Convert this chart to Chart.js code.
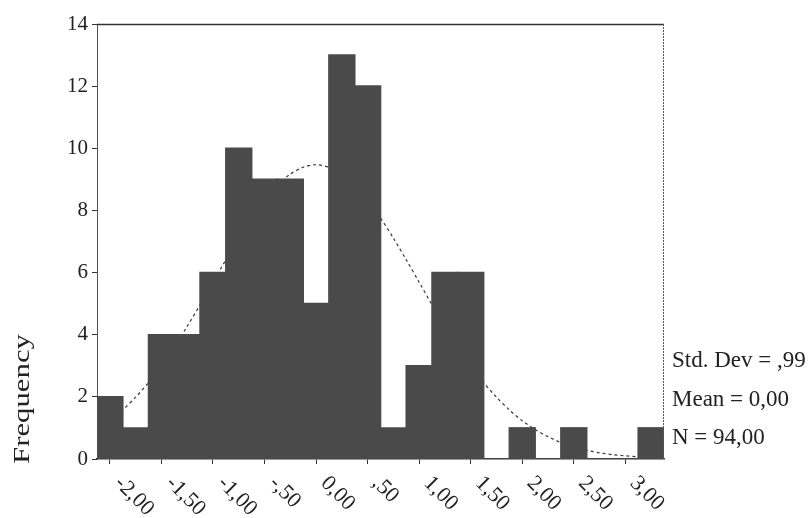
<!DOCTYPE html>
<html>
<head>
<meta charset="utf-8">
<script src="https://cdn.jsdelivr.net/npm/chart.js@4"></script>
<style>
  html, body { margin: 0; padding: 0; background: #fff; }
  #wrap { width: 811px; height: 518px; }
</style>
</head>
<body>
<div id="wrap"><canvas id="histChart" width="811" height="518"></canvas></div>
<script>
// histogram bins (centre of each 0.25 wide bin) and counts
const binCenters = [-2.00, -1.75, -1.50, -1.25, -1.00, -0.75, -0.50, -0.25, 0.00, 0.25, 0.50,
                    0.75, 1.00, 1.25, 1.50, 1.75, 2.00, 2.25, 2.50, 2.75, 3.00, 3.25];
const frequencies = [2, 1, 4, 4, 6, 10, 9, 9, 5, 13, 12, 1, 3, 6, 6, 0, 1, 0, 1, 0, 0, 1];

// normal curve
const curveX = [-2.125, -2.0, -1.875, -1.75, -1.625, -1.5, -1.375, -1.25, -1.125, -1.0, -0.875,
                -0.75, -0.625, -0.5, -0.375, -0.25, -0.125, 0, 0.125, 0.25, 0.375, 0.5, 0.625,
                0.75, 0.875, 1.0, 1.125, 1.25, 1.375, 1.5, 1.625, 1.75, 1.875, 2.0, 2.125, 2.25,
                2.375, 2.5, 2.625, 2.75, 2.875, 3.0, 3.125, 3.25, 3.375];
const curveY = [0.95, 1.23, 1.58, 1.99, 2.46, 3.0, 3.61, 4.27, 4.96, 5.69, 6.41,
                7.11, 7.76, 8.34, 8.82, 9.17, 9.39, 9.47, 9.39, 9.17, 8.82, 8.34, 7.76,
                7.11, 6.41, 5.69, 4.96, 4.27, 3.61, 3.0, 2.46, 1.99, 1.58, 1.23, 0.95, 0.72,
                0.53, 0.39, 0.28, 0.2, 0.14, 0.1, 0.07, 0.04, 0.03];

const xTickValues = [-2, -1.5, -1, -0.5, 0, 0.5, 1, 1.5, 2, 2.5, 3];
const xTickLabels = ["-2,00", "-1,50", "-1,00", "-,50", "0,00", ",50", "1,00", "1,50", "2,00", "2,50", "3,00"];
const yTicks = [0, 2, 4, 6, 8, 10, 12, 14];

const statsLines = ["Std. Dev = ,99", "Mean = 0,00", "N = 94,00"];
const yTitle = "Frequency";

const SERIF = "'Liberation Serif', 'DejaVu Serif', serif";
const INK = "#222";

// rotated x labels, axis title, stats and the box frame
const decorPlugin = {
  id: "decor",
  afterDraw(chart) {
    const ctx = chart.ctx;
    const a = chart.chartArea;
    const xs = chart.scales.x;

    ctx.save();
    // frame top + right
    ctx.strokeStyle = "#333";
    ctx.lineWidth = 1.3;
    ctx.beginPath();
    ctx.moveTo(a.left, a.top + 0.5);
    ctx.lineTo(a.right, a.top + 0.5);
    ctx.stroke();
    ctx.setLineDash([2, 1]);
    ctx.strokeStyle = "#555";
    ctx.lineWidth = 1;
    ctx.beginPath();
    ctx.moveTo(a.right - 0.5, a.top);
    ctx.lineTo(a.right - 0.5, a.bottom);
    ctx.stroke();
    ctx.setLineDash([]);

    // x labels, turned 45deg clockwise
    ctx.fillStyle = INK;
    ctx.font = "22px " + SERIF;
    ctx.textAlign = "left";
    ctx.textBaseline = "middle";
    xTickValues.forEach((v, i) => {
      const px = xs.getPixelForValue(v);
      ctx.save();
      ctx.translate(px + 8, a.bottom + 21);
      ctx.rotate(Math.PI / 4);
      ctx.fillText(xTickLabels[i], 0, 0);
      ctx.restore();
    });

    // y title
    ctx.save();
    ctx.font = "24px " + SERIF;
    ctx.textAlign = "center";
    ctx.textBaseline = "middle";
    ctx.translate(a.left - 74, a.bottom - 60);
    ctx.rotate(-Math.PI / 2);
    const w = ctx.measureText(yTitle).width;
    ctx.scale(130 / w, 1);
    ctx.fillText(yTitle, 0, 0);
    ctx.restore();

    // stats block
    ctx.font = "23px " + SERIF;
    ctx.textAlign = "left";
    ctx.textBaseline = "alphabetic";
    const base = [a.bottom - 92, a.bottom - 53, a.bottom - 15];
    statsLines.forEach((t, i) => ctx.fillText(t, a.right + 8, base[i]));
    ctx.restore();
  }
};

new Chart(document.getElementById("histChart"), {
  type: "bar",
  data: {
    datasets: [
      {
        label: "Frequency",
        data: binCenters.map((x, i) => ({ x: x, y: frequencies[i] })),
        backgroundColor: "#4a4a4a",
        borderWidth: 0,
        inflateAmount: 0.8,
        barPercentage: 1.0,
        categoryPercentage: 1.0,
        order: 1,
      },
      {
        // drawn first, so the bars hide it like in the original
        type: "line",
        label: "Normal",
        data: curveX.map((x, i) => ({ x: x, y: curveY[i] })),
        borderColor: "#3a3a3a",
        borderWidth: 1.2,
        borderDash: [3, 3],
        pointRadius: 0,
        tension: 0.3,
        fill: false,
        order: 2,
      },
    ],
  },
  options: {
    responsive: false,
    animation: false,
    devicePixelRatio: 1,
    layout: { padding: { top: 24, right: 147, left: 0, bottom: 0 } },
    plugins: { legend: { display: false }, tooltip: { enabled: false } },
    scales: {
      x: {
        type: "linear",
        min: -2.125, max: 3.375,
        offset: false,
        afterBuildTicks: (s) => { s.ticks = xTickValues.map(v => ({ value: v })); },
        afterFit: (s) => { s.height = 59; },
        ticks: { display: false },
        grid: { drawOnChartArea: false, offset: false, tickLength: 5, color: "#333" },
        border: { display: true, color: "#333", width: 1.5 },
      },
      y: {
        min: 0, max: 14,
        afterBuildTicks: (s) => { s.ticks = yTicks.map(v => ({ value: v })); },
        afterFit: (s) => { s.width = 97; },
        ticks: { color: INK, font: { family: SERIF, size: 21 }, padding: 4 },
        grid: { drawOnChartArea: false, tickLength: 5, color: "#333" },
        border: { display: true, color: "#555", dash: [2, 1] },
      },
    },
  },
  plugins: [decorPlugin],
});
</script>
</body>
</html>
